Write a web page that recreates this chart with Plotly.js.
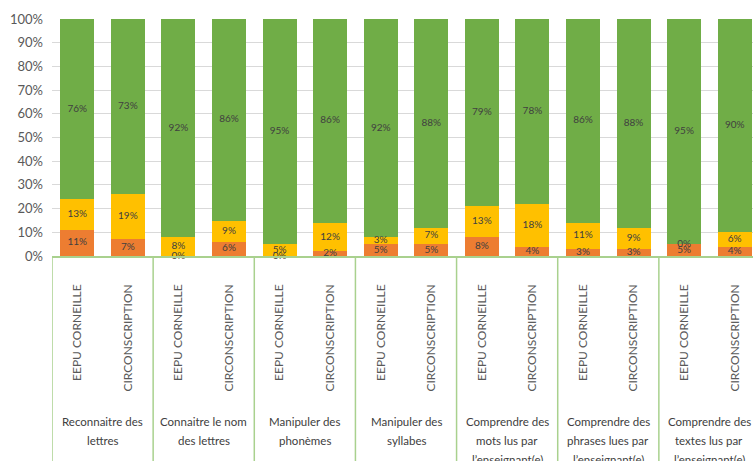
<!DOCTYPE html>
<html>
<head>
<meta charset="utf-8">
<script src="https://cdn.plot.ly/plotly-3.0.1.min.js"></script>
<style>
html,body{margin:0;padding:0;overflow:hidden;background:#fff;}
#chart{width:760px;height:461px;}
</style>
</head>
<body>
<div id="chart"></div>
<script>
const groups = [
  "Reconnaitre des<br>lettres",
  "Connaitre le nom<br>des lettres",
  "Manipuler des<br>phonèmes",
  "Manipuler des<br>syllabes",
  "Comprendre des<br>mots lus par<br>l’enseignant(e)",
  "Comprendre des<br>phrases lues par<br>l’enseignant(e)",
  "Comprendre des<br>textes lus par<br>l’enseignant(e)"
];
const units = ["EEPU CORNEILLE", "CIRCONSCRIPTION"];
// values per bar, in order: group1 EEPU, group1 CIRC, group2 EEPU, ...
const orangeVals = [11, 7, 0, 6, 0, 2, 5, 5, 8, 4, 3, 3, 5, 4];
const yellowVals = [13, 19, 8, 9, 5, 12, 3, 7, 13, 18, 11, 9, 0, 6];
const greenVals  = [76, 73, 92, 86, 95, 86, 92, 88, 79, 78, 86, 88, 95, 90];

const colors = {orange: "#ED7D31", yellow: "#FFC000", green: "#70AD47"};
const lineGreen = "#A9D18E";
const fontFam = "Lato, 'Open Sans', sans-serif";

const xPos = orangeVals.map((v, i) => i);
const xText = xPos.map(i => units[i % 2]);

// normalise to 100% stacked
const tot = orangeVals.map((v, i) => v + yellowVals[i] + greenVals[i]);
const nO = orangeVals.map((v, i) => v / tot[i] * 100);
const nY = yellowVals.map((v, i) => v / tot[i] * 100);
const nG = greenVals.map((v, i) => v / tot[i] * 100);

function barTrace(vals, color) {
  return {type: "bar", x: xPos, y: vals, marker: {color: color, line: {width: 0}},
          hoverinfo: "skip", showlegend: false};
}
function labelTrace(mid, raw) {
  return {type: "scatter", mode: "text", x: xPos, y: mid,
          text: raw.map(v => v + "%"), textposition: "middle center",
          textfont: {family: fontFam, size: 10, color: "#404040"},
          hoverinfo: "skip", showlegend: false, cliponaxis: false};
}
const midO = nO.map(v => v / 2);
const midY = nO.map((v, i) => v + nY[i] / 2);
const midG = nO.map((v, i) => v + nY[i] + nG[i] / 2);

const data = [
  barTrace(nO, colors.orange),
  barTrace(nY, colors.yellow),
  barTrace(nG, colors.green),
  labelTrace(midO, orangeVals),
  labelTrace(midY, yellowVals),
  labelTrace(midG, greenVals)
];

// group labels (one annotation per line) and dividers
const annotations = [];
const shapes = [];
groups.forEach((g, gi) => {
  g.split("<br>").forEach((line, li) => {
    annotations.push({
      xref: "x", yref: "paper", x: gi * 2 + 0.5, y: 0,
      yanchor: "middle", xanchor: "center", showarrow: false,
      yshift: -165 - li * 19,
      text: line, font: {family: fontFam, size: 11.5, color: "#404040"}
    });
  });
});
for (let gi = 0; gi <= groups.length; gi++) {
  shapes.push({type: "line", xref: "x", yref: "paper",
    x0: gi * 2 - 0.5, x1: gi * 2 - 0.5, y0: 0, y1: -1,
    line: {color: lineGreen, width: 1.5}});
}

const layout = {
  width: 760, height: 461,
  margin: {l: 52, r: 0, t: 19, b: 205},
  paper_bgcolor: "#fff", plot_bgcolor: "#fff",
  barmode: "stack", bargap: 0.33,
  font: {family: fontFam, color: "#595959", size: 12},
  xaxis: {
    range: [-0.5, 13.5], automargin: false,
    tickmode: "array", tickvals: xPos, ticktext: xText,
    showline: true, linecolor: lineGreen, linewidth: 1.5,
    tickangle: -90, ticks: "", ticklabelstandoff: 22,
    tickfont: {family: fontFam, size: 12, color: "#595959"},
    showgrid: false, zeroline: false, fixedrange: true
  },
  yaxis: {
    range: [0, 100], automargin: false,
    tickvals: [0,10,20,30,40,50,60,70,80,90,100],
    ticktext: ["0%","10%","20%","30%","40%","50%","60%","70%","80%","90%","100%"],
    showgrid: true, gridcolor: "#D9D9D9", gridwidth: 1,
    zeroline: false, showline: false, ticks: "",
    tickfont: {family: fontFam, size: 13, color: "#595959"},
    ticklabelstandoff: 8, fixedrange: true
  },
  annotations: annotations,
  shapes: shapes
};

Plotly.newPlot("chart", data, layout, {staticPlot: true, displayModeBar: false});
</script>
</body>
</html>
